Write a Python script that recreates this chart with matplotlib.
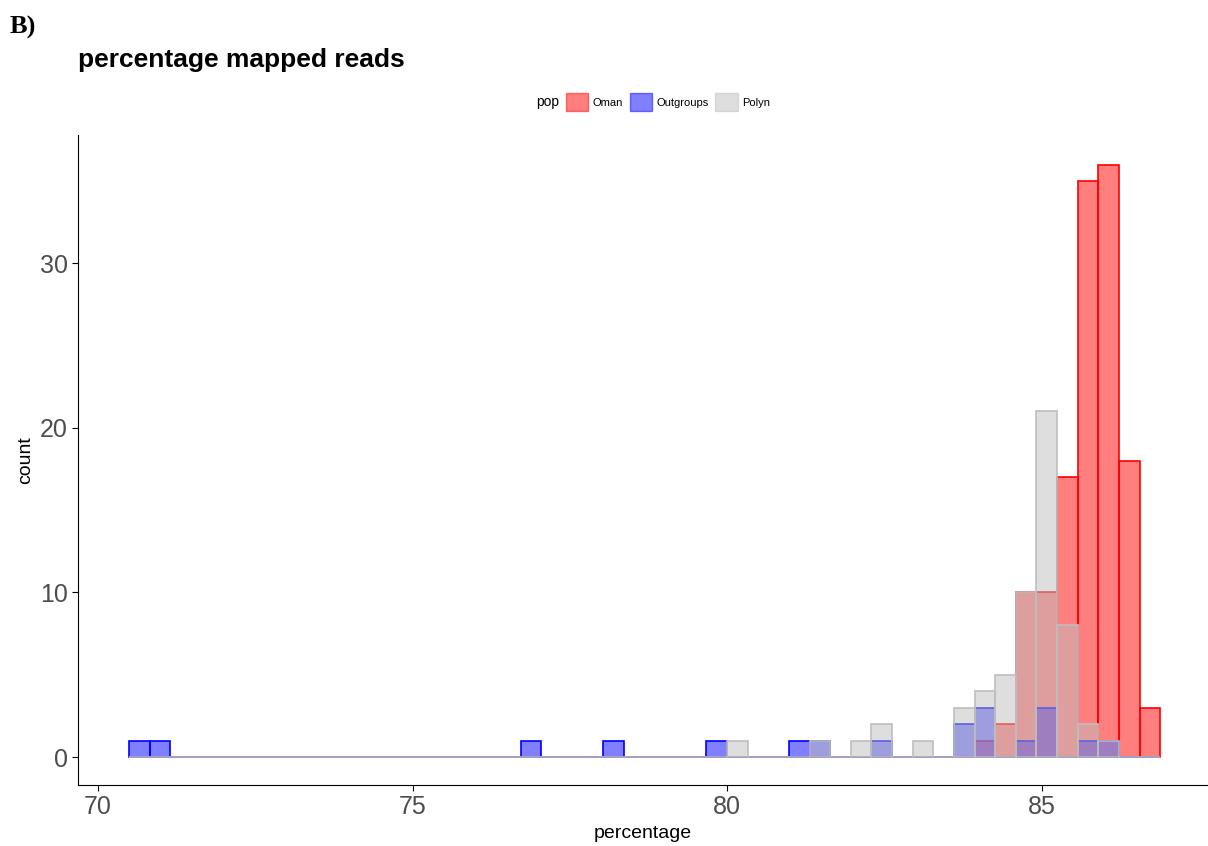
import numpy as np
import matplotlib.pyplot as plt
from matplotlib.patches import Patch

plt.rcParams['font.family'] = ['Liberation Sans', 'DejaVu Sans']

# histogram: 50 bins between these limits
x_min, x_max, n_bins = 70.49, 86.88, 50

oman = {41: 1, 42: 2, 43: 10, 44: 10, 45: 17, 46: 35, 47: 36, 48: 18, 49: 3}
outgroups = {0: 1, 1: 1, 19: 1, 23: 1, 28: 1, 32: 1, 33: 1, 36: 1, 40: 2, 41: 3,
             43: 1, 44: 3, 46: 1, 47: 1}
polyn = {29: 1, 33: 1, 35: 1, 36: 2, 38: 1, 40: 3, 41: 4, 42: 5, 43: 10, 44: 21,
         45: 8, 46: 2, 47: 1}

edges = np.linspace(x_min, x_max, n_bins + 1)
width = edges[1] - edges[0]

fig = plt.figure(figsize=(12.08, 8.46), dpi=100)
ax = fig.add_axes([78 / 1208, 1 - 785 / 846, 1130 / 1208, 650 / 846])

series = [("Oman", oman, "red", "red"),
          ("Outgroups", outgroups, "blue", "blue"),
          ("Polyn", polyn, "#bebebe", "#bebebe")]
handles = []
for name, d, fc, ec in series:
    counts = np.array([d.get(i, 0) for i in range(n_bins)])
    ax.bar(edges[:-1], counts, width=width, align="edge",
           color=fc, alpha=0.5, edgecolor="none")
    ax.bar(edges[:-1], counts, width=width, align="edge",
           fill=False, edgecolor=ec, linewidth=1.2)
    handles.append(Patch(facecolor=fc, alpha=0.5, edgecolor=ec, label=name))

ax.set_xlim(69.68, 87.64)
ax.set_ylim(-1.7, 37.8)
ax.set_xticks([70, 75, 80, 85])
ax.set_yticks([0, 10, 20, 30])
for s in ["top", "right"]:
    ax.spines[s].set_visible(False)
ax.tick_params(labelsize=18, colors="#4d4d4d", length=4)
ax.tick_params(color="black")
ax.set_xlabel("percentage", fontsize=14)
ax.set_ylabel("count", fontsize=14)

fig.text(78 / 1208, 1 - 60 / 846, "percentage mapped reads", fontsize=19,
         fontweight="bold", va="center")
fig.text(10 / 1208, 1 - 27 / 846, "B)", fontsize=19, fontweight="bold",
         family="Liberation Serif", va="center")
leg = fig.legend(handles=[Patch(alpha=0)] + handles, labels=["pop", "Oman", "Outgroups", "Polyn"],
                 loc="center", bbox_to_anchor=(640 / 1208, 1 - 102 / 846), ncol=4,
                 frameon=False, fontsize=8, handlelength=2, handleheight=2,
                 columnspacing=0.6, handletextpad=0.4)
leg.get_texts()[0].set_fontsize(10)
leg.legend_handles[0].set_visible(False)

fig.savefig("out.png", dpi=100)
